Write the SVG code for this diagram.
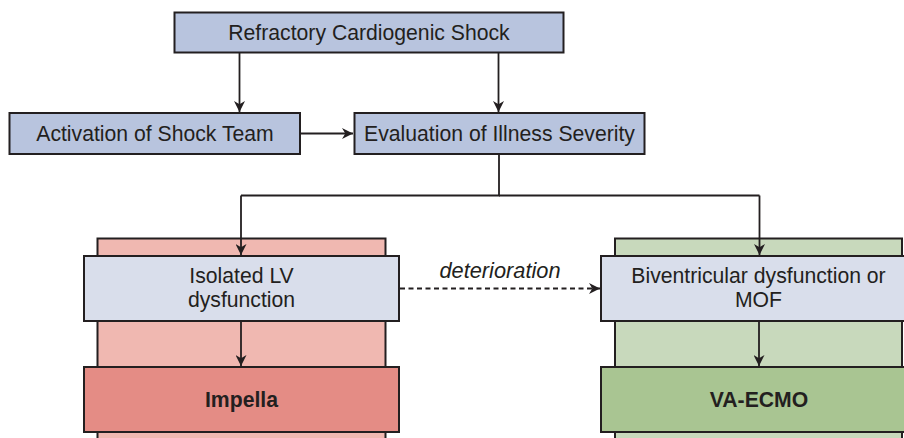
<svg xmlns="http://www.w3.org/2000/svg" width="904" height="438" viewBox="0 0 904 438">
<style>
.t{font-family:"Liberation Sans",Arial,sans-serif;font-size:21.2px;fill:#231f20;text-anchor:middle}
.b{font-weight:bold}
.i{font-style:italic;font-size:21.8px}
.top{fill:#b8c4de;stroke:#231f20;stroke-width:2}
.sub{fill:#d9deeb;stroke:#231f20;stroke-width:2}
.ln{fill:none;stroke:#231f20;stroke-width:1.8}
</style>
<defs>
<marker id="ah2" viewBox="0 0 10 10" refX="10" refY="5" markerWidth="11" markerHeight="11" markerUnits="userSpaceOnUse" orient="auto"><path d="M0,0 L10,5 L0,10 L3,5 z" fill="#231f20"/></marker>
</defs>
<g id="lv-panel">
<rect x="97.5" y="238.5" width="288" height="210" fill="#f0b8b1" stroke="#231f20" stroke-width="2"/>
</g>
<g id="biv-panel">
<rect x="615" y="238.5" width="287" height="210" fill="#c8d9bc" stroke="#231f20" stroke-width="2"/>
</g>
<g id="connectors">
<line class="ln" x1="239.5" y1="52.5" x2="239.5" y2="112" marker-end="url(#ah2)"/>
<line class="ln" x1="498.5" y1="52.5" x2="498.5" y2="112" marker-end="url(#ah2)"/>
<line class="ln" x1="300" y1="133.5" x2="353" y2="133.5" stroke-width="2.2" marker-end="url(#ah2)"/>
<polyline class="ln" points="499,154 499,195.5 241,195.5"/>
<polyline class="ln" points="499,195.5 759.5,195.5"/>
<line class="ln" x1="241" y1="195.5" x2="241" y2="255" marker-end="url(#ah2)"/>
<line class="ln" x1="759.5" y1="195.5" x2="759.5" y2="255" marker-end="url(#ah2)"/>
<line class="ln" x1="241" y1="321" x2="241" y2="366" marker-end="url(#ah2)"/>
<line class="ln" x1="759" y1="321" x2="759" y2="366" marker-end="url(#ah2)"/>
<line class="ln" x1="400" y1="288.5" x2="600" y2="288.5" stroke-dasharray="5,3.5" marker-end="url(#ah2)"/>
<text class="t i" x="500" y="278">deterioration</text>
</g>
<g id="refractory">
<rect class="top" x="174.5" y="12.5" width="389" height="40"/>
<text class="t" x="369" y="39.5">Refractory Cardiogenic Shock</text>
</g>
<g id="activation">
<rect class="top" x="9.5" y="113" width="290.5" height="41"/>
<text class="t" x="155" y="141">Activation of Shock Team</text>
</g>
<g id="evaluation">
<rect class="top" x="354.5" y="113" width="290" height="41"/>
<text class="t" x="499.5" y="141">Evaluation of Illness Severity</text>
</g>
<g id="isolated-lv">
<rect class="sub" x="84" y="256" width="315" height="65"/>
<text class="t" x="241.5" y="283">Isolated LV</text>
<text class="t" x="241.5" y="307">dysfunction</text>
</g>
<g id="biventricular">
<rect class="sub" x="601" y="256" width="310" height="65"/>
<text class="t" x="758.5" y="283">Biventricular dysfunction or</text>
<text class="t" x="758.5" y="307">MOF</text>
</g>
<g id="impella">
<rect x="84" y="367" width="315" height="65" fill="#e48c85" stroke="#231f20" stroke-width="2"/>
<text class="t b" x="241.5" y="407">Impella</text>
</g>
<g id="va-ecmo">
<rect x="601" y="367" width="310" height="65" fill="#a9c592" stroke="#231f20" stroke-width="2"/>
<text class="t b" x="759" y="407">VA-ECMO</text>
</g>
</svg>
